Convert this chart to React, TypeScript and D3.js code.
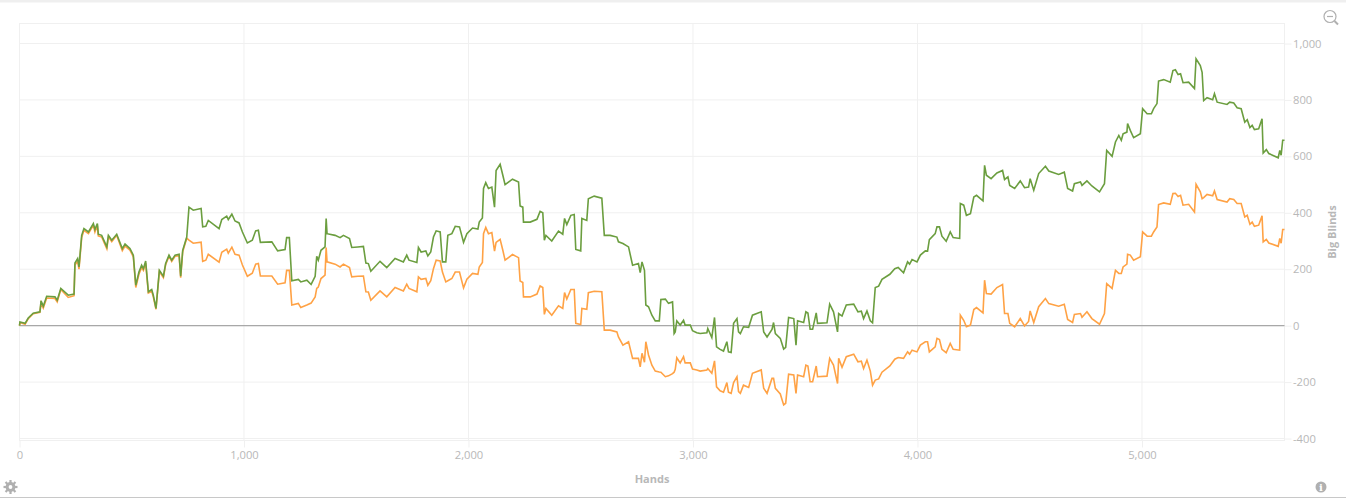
import * as d3 from 'd3';
import React, { useEffect, useRef } from 'react';

const hands = [
	0, 2, 25, 39, 61, 91, 96, 106, 121, 158,
	168, 184, 217, 243, 247, 259, 265, 277, 287, 307,
	329, 336, 347, 351, 366, 389, 396, 411, 433, 458,
	470, 492, 507, 518, 532, 544, 552, 562, 574, 589,
	596, 608, 623, 641, 651, 666, 678, 693, 711, 718,
	727, 745, 755, 774, 809, 816, 830, 841, 889, 901,
	923, 930, 946, 960, 978, 993, 1015, 1037, 1052, 1064,
	1073, 1124, 1150, 1183, 1190, 1202, 1213, 1242, 1253, 1280,
	1299, 1317, 1324, 1331, 1343, 1361, 1366, 1370, 1406, 1428,
	1443, 1470, 1480, 1507, 1532, 1543, 1554, 1565, 1606, 1636,
	1673, 1710, 1725, 1735, 1770, 1777, 1789, 1810, 1819, 1832,
	1844, 1856, 1874, 1884, 1899, 1908, 1926, 1941, 1960, 1978,
	1993, 2018, 2042, 2048, 2062, 2067, 2077, 2089, 2104, 2116,
	2123, 2141, 2153, 2163, 2196, 2223, 2230, 2242, 2245, 2275,
	2305, 2319, 2331, 2338, 2345, 2371, 2401, 2420, 2428, 2438,
	2456, 2471, 2478, 2500, 2505, 2527, 2534, 2560, 2594, 2605,
	2631, 2661, 2668, 2688, 2713, 2731, 2757, 2765, 2773, 2784,
	2790, 2802, 2817, 2832, 2850, 2857, 2877, 2891, 2909, 2916,
	2921, 2928, 2943, 2958, 2965, 2988, 2998, 3017, 3032, 3062,
	3066, 3084, 3096, 3105, 3121, 3136, 3151, 3158, 3170, 3181,
	3196, 3203, 3211, 3225, 3248, 3265, 3304, 3315, 3330, 3352,
	3359, 3367, 3389, 3404, 3413, 3426, 3449, 3459, 3466, 3493,
	3503, 3512, 3522, 3533, 3549, 3555, 3597, 3609, 3626, 3644,
	3649, 3664, 3683, 3716, 3735, 3750, 3760, 3775, 3790, 3800,
	3812, 3827, 3842, 3877, 3899, 3914, 3938, 3956, 3965, 3976,
	3998, 4013, 4035, 4045, 4053, 4079, 4087, 4098, 4109, 4128,
	4146, 4159, 4188, 4191, 4206, 4218, 4236, 4251, 4263, 4292,
	4299, 4307, 4328, 4354, 4379, 4388, 4403, 4411, 4433, 4458,
	4477, 4495, 4502, 4518, 4540, 4570, 4585, 4629, 4654, 4669,
	4691, 4699, 4726, 4733, 4755, 4777, 4811, 4833, 4843, 4867,
	4882, 4897, 4908, 4916, 4933, 4936, 4948, 4963, 4993, 5003,
	5023, 5042, 5052, 5067, 5074, 5097, 5126, 5138, 5149, 5161,
	5172, 5183, 5208, 5234, 5241, 5260, 5268, 5275, 5290, 5315,
	5323, 5335, 5379, 5391, 5409, 5424, 5442, 5458, 5469, 5481,
	5491, 5501, 5520, 5535, 5540, 5554, 5565, 5607, 5614, 5620,
	5627, 5635,
];

const allInEv = [
	0, 13, 8, 27, 44, 49, 88, 69, 104, 102,
	90, 132, 108, 112, 222, 238, 208, 320, 344, 332,
	362, 341, 362, 324, 320, 279, 320, 303, 324, 273,
	289, 273, 250, 143, 190, 214, 202, 229, 120, 128,
	108, 61, 196, 175, 220, 250, 232, 250, 253, 175,
	267, 314, 420, 409, 415, 350, 352, 373, 344, 376,
	388, 376, 395, 371, 364, 332, 293, 303, 336, 338,
	295, 297, 265, 270, 312, 312, 159, 164, 155, 161,
	146, 175, 246, 232, 267, 279, 380, 326, 320, 312,
	320, 309, 277, 279, 281, 222, 220, 193, 228, 206,
	238, 226, 250, 232, 224, 277, 261, 265, 247, 261,
	314, 336, 332, 226, 226, 320, 326, 352, 350, 295,
	326, 346, 342, 367, 382, 486, 507, 486, 491, 420,
	550, 572, 533, 500, 519, 509, 424, 420, 367, 367,
	377, 405, 400, 303, 320, 300, 335, 324, 380, 358,
	391, 394, 270, 265, 380, 373, 450, 459, 452, 320,
	320, 314, 297, 291, 279, 214, 220, 188, 226, 196,
	73, 67, 37, 17, 17, 93, 94, 79, 84, -28,
	-22, 17, 2, 19, 2, 2, -18, -25, -28, -25,
	-10, -42, 29, -75, -84, -90, -57, -93, -95, 8,
	25, -22, -28, -4, -6, 37, 49, -22, -40, -13,
	11, -28, -45, -83, -77, 29, 25, -69, 17, 11,
	49, 45, -13, -13, 45, 8, 10, 76, 49, -22,
	43, 34, 73, 76, 49, 51, 25, 52, 17, 10,
	135, 140, 164, 182, 202, 206, 187, 226, 218, 234,
	226, 250, 265, 264, 305, 326, 350, 350, 317, 299,
	332, 312, 309, 433, 427, 391, 397, 456, 462, 442,
	568, 533, 521, 541, 550, 518, 527, 497, 486, 513,
	489, 491, 521, 480, 539, 565, 548, 536, 544, 486,
	477, 503, 509, 497, 513, 495, 474, 503, 621, 600,
	651, 674, 657, 680, 686, 716, 692, 666, 680, 769,
	751, 751, 769, 787, 867, 872, 863, 904, 907, 890,
	893, 861, 863, 840, 946, 922, 898, 798, 808, 801,
	822, 792, 784, 792, 789, 772, 769, 721, 730, 702,
	710, 695, 698, 733, 612, 624, 610, 595, 621, 604,
	657, 657,
];

const actual = [
	0, 11, 5, 25, 42, 47, 80, 62, 98, 96,
	84, 128, 100, 106, 215, 228, 200, 312, 338, 326,
	356, 332, 355, 318, 314, 272, 315, 298, 320, 266,
	282, 268, 244, 135, 182, 206, 196, 222, 116, 122,
	102, 58, 192, 170, 216, 246, 228, 246, 248, 170,
	262, 310, 303, 292, 296, 228, 232, 253, 225, 260,
	271, 257, 278, 253, 250, 215, 175, 186, 218, 220,
	176, 176, 147, 152, 196, 196, 73, 79, 64, 73,
	80, 102, 132, 137, 167, 179, 277, 226, 218, 208,
	218, 206, 173, 175, 176, 120, 119, 90, 123, 102,
	135, 123, 147, 132, 120, 173, 164, 167, 143, 159,
	202, 232, 229, 190, 155, 159, 167, 190, 190, 134,
	165, 185, 182, 208, 224, 326, 348, 326, 330, 264,
	295, 306, 267, 232, 252, 241, 158, 153, 102, 102,
	112, 141, 135, 40, 61, 37, 70, 61, 117, 94,
	128, 128, 8, 4, 61, 58, 117, 122, 120, -16,
	-16, -22, -40, -69, -57, -116, -116, -146, -98, -130,
	-57, -104, -140, -161, -164, -165, -181, -178, -170, -165,
	-155, -114, -132, -110, -132, -132, -154, -157, -161, -157,
	-152, -169, -125, -217, -231, -236, -202, -236, -240, -202,
	-181, -234, -240, -211, -219, -169, -157, -222, -240, -187,
	-187, -222, -242, -281, -275, -172, -175, -240, -175, -181,
	-140, -143, -199, -199, -143, -181, -179, -116, -140, -205,
	-116, -148, -110, -101, -128, -126, -152, -122, -161, -211,
	-193, -189, -165, -143, -119, -113, -116, -93, -101, -87,
	-93, -69, -57, -57, -93, -75, -45, -49, -84, -96,
	-63, -84, -87, 37, 19, -4, 2, 57, 64, 45,
	161, 114, 112, 135, 146, 43, 43, 8, -4, 25,
	-1, 15, 52, 11, 67, 96, 78, 69, 76, 22,
	11, 40, 43, 30, 49, 25, 5, 43, 149, 132,
	196, 185, 185, 208, 218, 253, 250, 232, 244, 332,
	317, 317, 332, 350, 429, 435, 430, 468, 469, 458,
	462, 427, 430, 403, 501, 474, 450, 454, 465, 460,
	477, 447, 438, 450, 447, 433, 433, 385, 391, 359,
	367, 352, 356, 389, 297, 306, 293, 281, 309, 292,
	341, 341,
];

const xTicks = [0, 1000, 2000, 3000, 4000, 5000];
const yTicks = [-400, -200, 0, 200, 400, 600, 800, 1000];

const width = 1346;
const height = 498;
const plot = { left: 19.5, right: 1284.5, top: 23.5, bottom: 440.5 };

const fontFamily = '"Open Sans", sans-serif';
const gridColor = '#f0f0f0';
const textColor = '#b8b8b8';
const iconColor = '#b0b0b0';

export default function App(): React.JSX.Element {
	const chartRef = useRef<SVGSVGElement | null>(null);

	useEffect(() => {
		if (chartRef.current === null) return;

		const svg = d3.select(chartRef.current);
		svg.selectAll('*').remove();

		const xScale = d3.scaleLinear().domain([0, 5635]).range([plot.left, plot.right]);
		const yScale = d3.scaleLinear().domain([-400, 1000]).range([438.5, 43.5]);

		// page edges
		svg.append('rect').attr('width', width).attr('height', 2.5).attr('fill', '#efefef');
		svg.append('line')
			.attr('x1', 0).attr('x2', width).attr('y1', 497.5).attr('y2', 497.5)
			.attr('stroke', '#c8c8c8');

		// plot frame
		svg.append('rect')
			.attr('x', plot.left).attr('y', plot.top)
			.attr('width', plot.right - plot.left).attr('height', plot.bottom - plot.top)
			.attr('fill', 'none').attr('stroke', gridColor);

		const xAxis = svg.append('g')
			.attr('transform', `translate(0, ${plot.bottom})`)
			.call(d3.axisBottom(xScale)
				.tickValues(xTicks)
				.tickSize(7)
				.tickPadding(4)
				.tickFormat((d) => d3.format(',')(d as number)));

		const yAxis = svg.append('g')
			.attr('transform', `translate(${plot.right}, 0)`)
			.call(d3.axisRight(yScale)
				.tickValues(yTicks)
				.tickSize(7)
				.tickPadding(1.5)
				.tickFormat((d) => d3.format(',')(d as number).replace('\u2212', '-')));

		[xAxis, yAxis].forEach((axis) => {
			axis.select('.domain').remove();
			axis.selectAll('line').attr('stroke', gridColor);
			axis.selectAll('text')
				.attr('fill', textColor)
				.attr('font-family', fontFamily)
				.attr('font-size', 11.2);
		});

		// gridlines
		svg.append('g')
			.selectAll('line')
			.data(xTicks)
			.enter()
			.append('line')
			.attr('x1', (d) => xScale(d)).attr('x2', (d) => xScale(d))
			.attr('y1', plot.top).attr('y2', plot.bottom)
			.attr('stroke', gridColor);

		svg.append('g')
			.selectAll('line')
			.data(yTicks)
			.enter()
			.append('line')
			.attr('x1', plot.left).attr('x2', plot.right)
			.attr('y1', (d) => yScale(d)).attr('y2', (d) => yScale(d))
			.attr('stroke', gridColor);

		// zero line
		svg.append('line')
			.attr('x1', plot.left).attr('x2', plot.right)
			.attr('y1', yScale(0)).attr('y2', yScale(0))
			.attr('stroke', '#a8a8a8').attr('stroke-width', 1.3);

		const line = d3.line<number>()
			.x((_, index) => xScale(hands[index]))
			.y((value) => yScale(value));

		svg.append('path')
			.attr('d', line(actual))
			.attr('fill', 'none').attr('stroke', '#ffa245').attr('stroke-width', 1.6);

		svg.append('path')
			.attr('d', line(allInEv))
			.attr('fill', 'none').attr('stroke', '#6b9e3f').attr('stroke-width', 1.6);

		// axis titles
		svg.append('text')
			.attr('x', 652).attr('y', 483)
			.attr('text-anchor', 'middle')
			.attr('font-family', fontFamily).attr('font-size', 11).attr('font-weight', 700)
			.attr('fill', textColor)
			.text('Hands');

		svg.append('text')
			.attr('transform', 'translate(1336, 232) rotate(-90)')
			.attr('text-anchor', 'middle')
			.attr('font-family', fontFamily).attr('font-size', 11).attr('font-weight', 700)
			.attr('fill', textColor)
			.text('Big Blinds');

		// zoom icon
		const zoomIcon = svg.append('g')
			.attr('fill', 'none').attr('stroke', iconColor);
		zoomIcon.append('circle').attr('cx', 1330).attr('cy', 16.5).attr('r', 6).attr('stroke-width', 1.2);
		zoomIcon.append('line')
			.attr('x1', 1334.5).attr('y1', 21).attr('x2', 1338).attr('y2', 24.5)
			.attr('stroke-width', 2);
		zoomIcon.append('line')
			.attr('x1', 1327).attr('y1', 16.5).attr('x2', 1333).attr('y2', 16.5)
			.attr('stroke-width', 1.2);

		// settings icon
		const gear = svg.append('g')
			.attr('transform', 'translate(10.5, 487)')
			.attr('fill', 'none').attr('stroke', iconColor);
		gear.append('circle').attr('r', 3.4).attr('stroke-width', 3);
		d3.range(8).forEach((index) => {
			gear.append('line')
				.attr('x1', 0).attr('y1', -4).attr('x2', 0).attr('y2', -7)
				.attr('stroke-width', 2.2)
				.attr('transform', `rotate(${index * 45})`);
		});

		// info icon
		const info = svg.append('g').attr('transform', 'translate(1321, 487)');
		info.append('circle').attr('r', 5.5).attr('fill', iconColor);
		info.append('text')
			.attr('y', 3.5)
			.attr('text-anchor', 'middle')
			.attr('font-family', 'DejaVu Serif, serif').attr('font-size', 10).attr('font-weight', 700)
			.attr('fill', '#ffffff')
			.text('i');
	}, []);

	return (
		<svg
			ref={chartRef}
			width={width}
			height={height}
			style={{ position: 'absolute', left: 0, top: 0, background: '#ffffff' }}
		/>
	);
}
